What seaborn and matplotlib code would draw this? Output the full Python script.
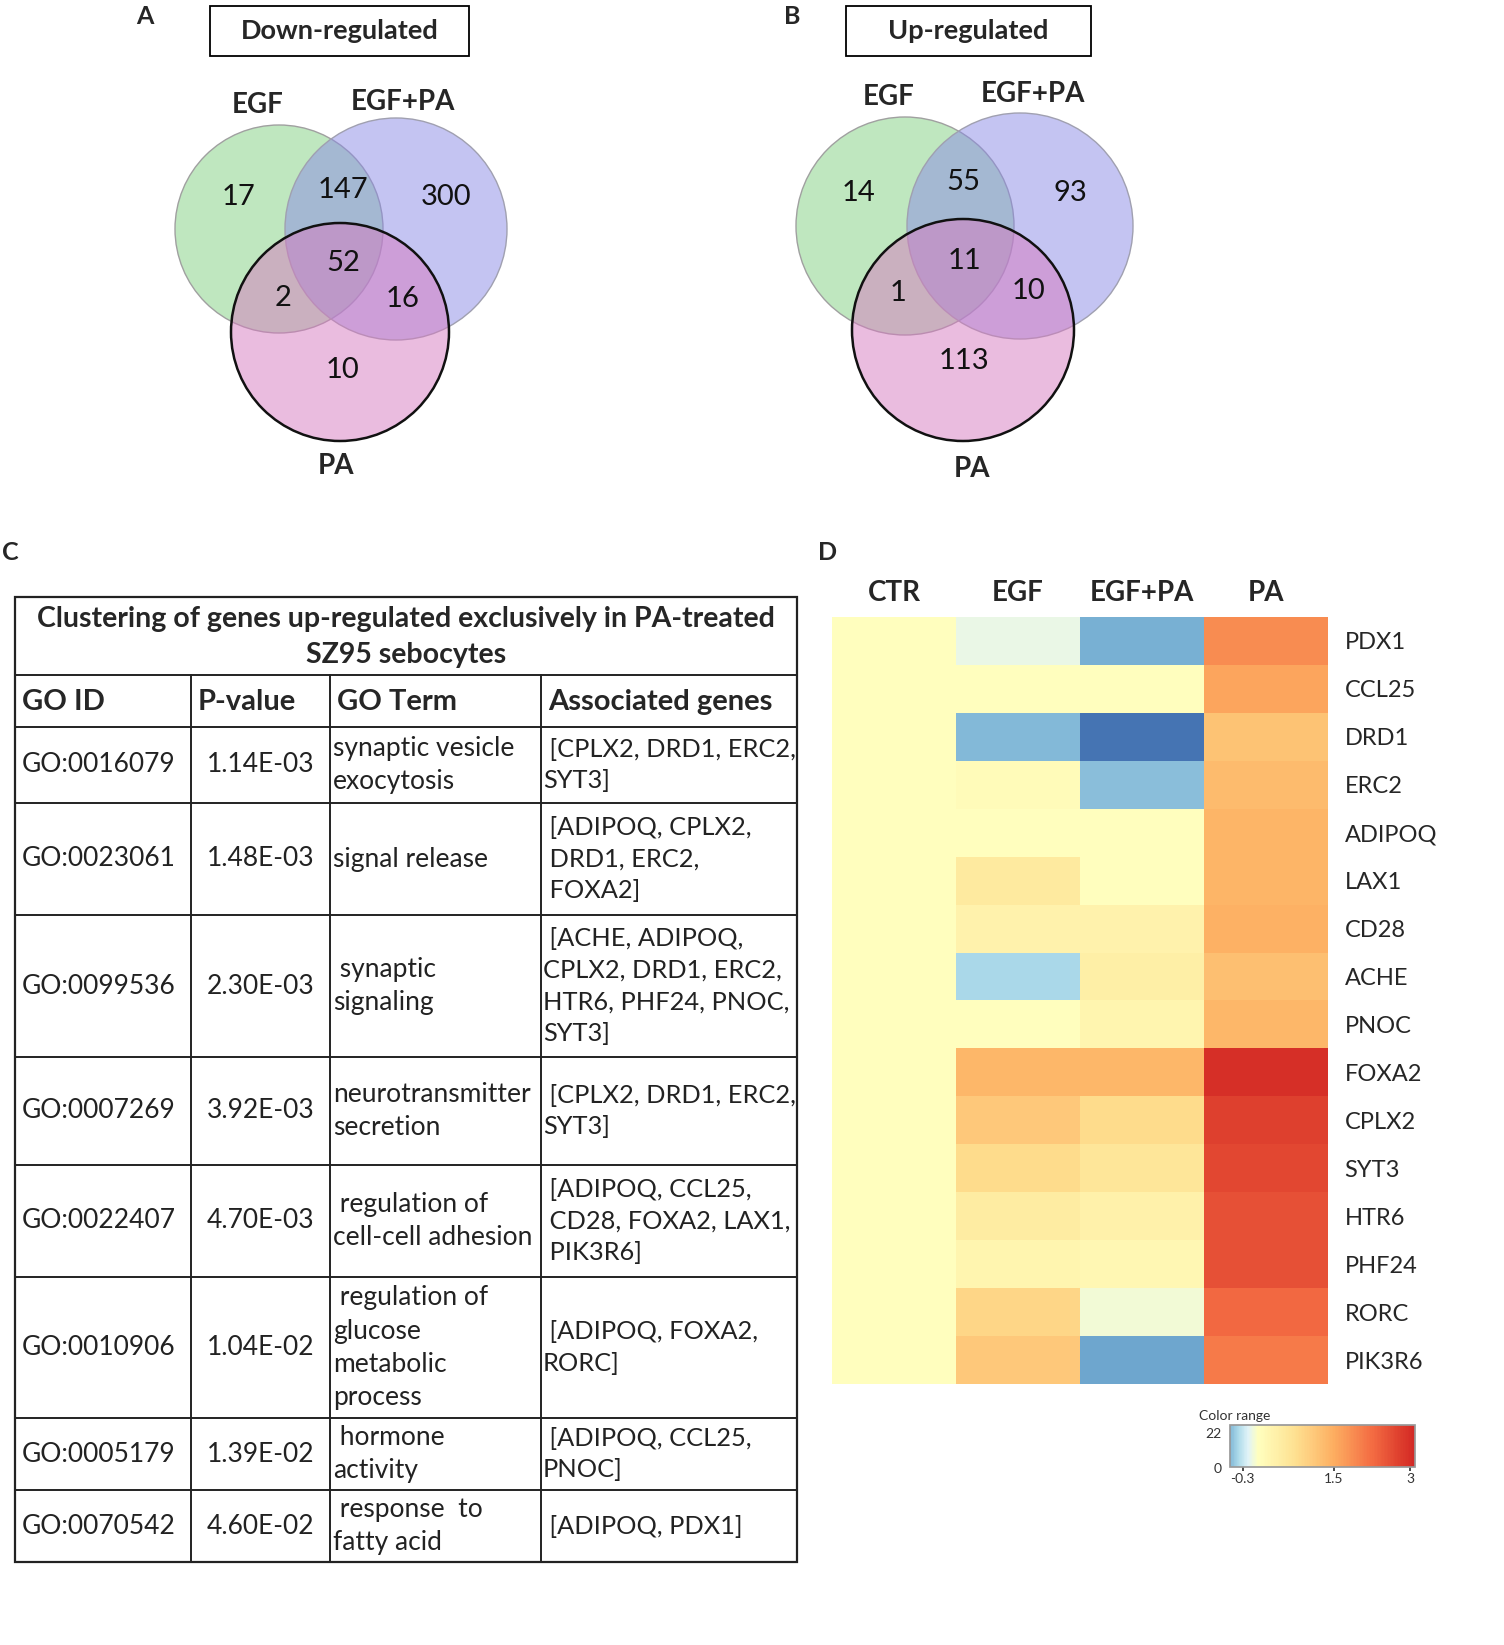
import numpy as np
import pandas as pd
import matplotlib
matplotlib.use("Agg")
import matplotlib.pyplot as plt
import seaborn as sns
from matplotlib.patches import Circle, Rectangle
from matplotlib.colors import TwoSlopeNorm, Normalize, ListedColormap
from matplotlib.colorbar import ColorbarBase

sns.set_theme(style="white")
plt.rcParams['font.family'] = ['Lato', 'DejaVu Sans']

# ---- Venn data (A: down-regulated, B: up-regulated) ----
regions = ["EGF only", "EGF & EGF+PA", "EGF+PA only", "all", "EGF & PA", "EGF+PA & PA", "PA only"]
down_counts = [17, 147, 300, 52, 2, 16, 10]
up_counts = [14, 55, 93, 11, 1, 10, 113]
set_names = ["EGF", "EGF+PA", "PA"]

# ---- GO table (C) ----
go_ids = ["GO:0016079", "GO:0023061", "GO:0099536", "GO:0007269",
          "GO:0022407", "GO:0010906", "GO:0005179", "GO:0070542"]
p_values = [1.14e-3, 1.48e-3, 2.30e-3, 3.92e-3, 4.70e-3, 1.04e-2, 1.39e-2, 4.60e-2]
go_terms = ["synaptic vesicle\nexocytosis", "signal release", " synaptic\nsignaling",
            "neurotransmitter\nsecretion", " regulation of\ncell-cell adhesion",
            " regulation of\nglucose\nmetabolic\nprocess", " hormone\nactivity",
            " response  to\nfatty acid"]
genes = [" [CPLX2, DRD1, ERC2,\nSYT3]", " [ADIPOQ, CPLX2,\n DRD1, ERC2,\n FOXA2]",
         " [ACHE, ADIPOQ,\nCPLX2, DRD1, ERC2,\nHTR6, PHF24, PNOC,\nSYT3]",
         " [CPLX2, DRD1, ERC2,\nSYT3]", " [ADIPOQ, CCL25,\n CD28, FOXA2, LAX1,\n PIK3R6]",
         " [ADIPOQ, FOXA2,\nRORC]", " [ADIPOQ, CCL25,\nPNOC]", " [ADIPOQ, PDX1]"]

# ---- Heatmap (D) ----
conditions = ["CTR", "EGF", "EGF+PA", "PA"]
gene_rows = ["PDX1", "CCL25", "DRD1", "ERC2", "ADIPOQ", "LAX1", "CD28", "ACHE",
             "PNOC", "FOXA2", "CPLX2", "SYT3", "HTR6", "PHF24", "RORC", "PIK3R6"]
ctr_vals = [0] * 16
egf_vals = [-0.14, 0, -0.54, 0.1, 0, 0.5, 0.3, -0.4, 0, 1.35, 1.1, 0.8, 0.45, 0.25, 0.9, 1.1]
egfpa_vals = [-0.58, 0, -0.8, -0.52, 0, 0, 0.3, 0.4, 0.25, 1.35, 0.8, 0.6, 0.35, 0.2, -0.08, -0.62]
pa_vals = [1.9, 1.6, 1.2, 1.3, 1.4, 1.4, 1.45, 1.25, 1.35, 3.0, 2.8, 2.7, 2.6, 2.6, 2.3, 2.1]

W, H = 1504, 1645
fig = plt.figure(figsize=(W / 100, H / 100), dpi=100)
ax = fig.add_axes([0, 0, 1, 1])
ax.set_xlim(0, W)
ax.set_ylim(H, 0)
ax.axis("off")

# panel letters
for letter, (x, y) in zip("ABCD", [(145, 16), (792, 16), (10, 552), (828, 552)]):
    ax.text(x, y, letter, fontsize=18, fontweight="bold", ha="center", va="center")

# ---- Venn diagrams ----
circle_colors = ["#80d080", "#8a8ae6", "#d67ac0"]
edge_colors = ["#a0a0a0", "#a0a0b0", "#111111"]
edge_widths = [1.0, 1.0, 1.8]


def draw_venn(counts, centers, radii, count_pos, label_pos, box, title):
    for c, r, fc, ec, lw in zip(centers, radii, circle_colors, edge_colors, edge_widths):
        ax.add_patch(Circle(c, r, facecolor=fc, alpha=0.5, edgecolor="none"))
        ax.add_patch(Circle(c, r, facecolor="none", edgecolor=ec, lw=lw))
    for n, (x, y) in zip(counts, count_pos):
        ax.text(x, y, str(n), fontsize=21, ha="center", va="center", color="#111111")
    for name, (x, y) in zip(set_names, label_pos):
        ax.text(x, y, name, fontsize=20, fontweight="bold", ha="center", va="center")
    bx, by, bw, bh = box
    ax.add_patch(Rectangle((bx, by), bw, bh, facecolor="white", edgecolor="black", lw=1.3))
    ax.text(bx + bw / 2, by + bh / 2, title, fontsize=19.5, fontweight="bold", ha="center", va="center")


draw_venn(down_counts,
          centers=[(279, 229), (396, 229), (340, 332)], radii=[104, 111, 109],
          count_pos=[(238, 197), (343, 190), (446, 197), (343, 263), (283, 298), (403, 299), (342, 370)],
          label_pos=[(258, 105), (403, 102), (336, 466)],
          box=(210, 6, 259, 50), title="Down-regulated")
draw_venn(up_counts,
          centers=[(905, 226), (1020, 226), (963, 330)], radii=[109, 113, 111],
          count_pos=[(858, 193), (963, 182), (1070, 193), (964, 261), (898, 293), (1029, 291), (964, 361)],
          label_pos=[(889, 97), (1033, 94), (972, 469)],
          box=(846, 6, 245, 50), title="Up-regulated")

# ---- Table ----
col_x = [15, 191, 330, 541, 797]
row_y = [597, 675, 727, 803, 915, 1057, 1165, 1277, 1418, 1490, 1562]
lc = "#222222"
ax.add_patch(Rectangle((col_x[0], row_y[0]), col_x[-1] - col_x[0], row_y[-1] - row_y[0],
                       facecolor="none", edgecolor=lc, lw=1.6))
for y in row_y[1:-1]:
    ax.plot([col_x[0], col_x[-1]], [y, y], color=lc, lw=1.4)
for x in col_x[1:-1]:
    ax.plot([x, x], [row_y[1], row_y[-1]], color=lc, lw=1.4)

ax.text((col_x[0] + col_x[-1]) / 2, (row_y[0] + row_y[1]) / 2 + 1,
        "Clustering of genes up-regulated exclusively in PA-treated\nSZ95 sebocytes",
        fontsize=20.5, fontweight="bold", ha="center", va="center", linespacing=1.45)
headers = ["GO ID", "P-value", "GO Term", "Associated genes"]
for h, x in zip(headers, [22, 198, 337, 548]):
    ax.text(x, (row_y[1] + row_y[2]) / 2 + 1, h, fontsize=21, fontweight="bold",
            ha="left", va="center")

for i in range(len(go_ids)):
    yc = (row_y[i + 2] + row_y[i + 3]) / 2
    ax.text(22, yc, go_ids[i], fontsize=19, ha="left", va="center", color="#222222")
    ax.text((col_x[1] + col_x[2]) / 2, yc, "%.2E" % p_values[i], fontsize=19,
            ha="center", va="center", color="#222222")
    ax.text(333, yc, go_terms[i], fontsize=19, ha="left", va="center",
            linespacing=1.4, color="#222222")
    ax.text(543, yc, genes[i], fontsize=18.3, ha="left", va="center",
            linespacing=1.45, color="#222222")

# ---- Heatmap ----
heat_cmap = plt.get_cmap("RdYlBu_r")
heat_norm = TwoSlopeNorm(vcenter=0, vmin=-1, vmax=3.75)
df = pd.DataFrame({"CTR": ctr_vals, "EGF": egf_vals, "EGF+PA": egfpa_vals, "PA": pa_vals},
                  index=gene_rows)[conditions]
hax = fig.add_axes([832 / W, 1 - 1384 / H, (1328 - 832) / W, (1384 - 617) / H])
sns.heatmap(df, cmap=heat_cmap, norm=heat_norm, cbar=False, ax=hax, linewidths=0)
hax.xaxis.tick_top()
hax.yaxis.tick_right()
hax.set_xticklabels(conditions, fontsize=20, fontweight="bold")
hax.set_yticklabels(gene_rows, fontsize=17, rotation=0)
hax.tick_params(axis="x", length=0, pad=8)
hax.tick_params(axis="y", length=0, pad=12)
hax.set_xlabel("")
hax.set_ylabel("")

# colour range legend (linear scale, same colours as the heatmap)
lo, hi = -0.55, 3.1
grid = np.linspace(lo, hi, 256)
legend_cmap = ListedColormap(heat_cmap(heat_norm(grid)))
cax = fig.add_axes([1230 / W, 1 - 1467 / H, (1415 - 1230) / W, 42 / H])
cb = ColorbarBase(cax, cmap=legend_cmap, norm=Normalize(lo, hi), orientation="horizontal")
cb.set_ticks([-0.3, 1.5, 3])
cb.set_ticklabels(["-0.3", "1.5", "3"])
cb.ax.tick_params(labelsize=10, length=3, pad=1, colors="#333333")
cb.outline.set_edgecolor("#999999")
ax.text(1199, 1416, "Color range", fontsize=10, ha="left", va="center", color="#333333")
ax.text(1222, 1434, "22", fontsize=10, ha="right", va="center", color="#333333")
ax.text(1222, 1469, "0", fontsize=10, ha="right", va="center", color="#333333")

fig.savefig("out.png", dpi=100)
